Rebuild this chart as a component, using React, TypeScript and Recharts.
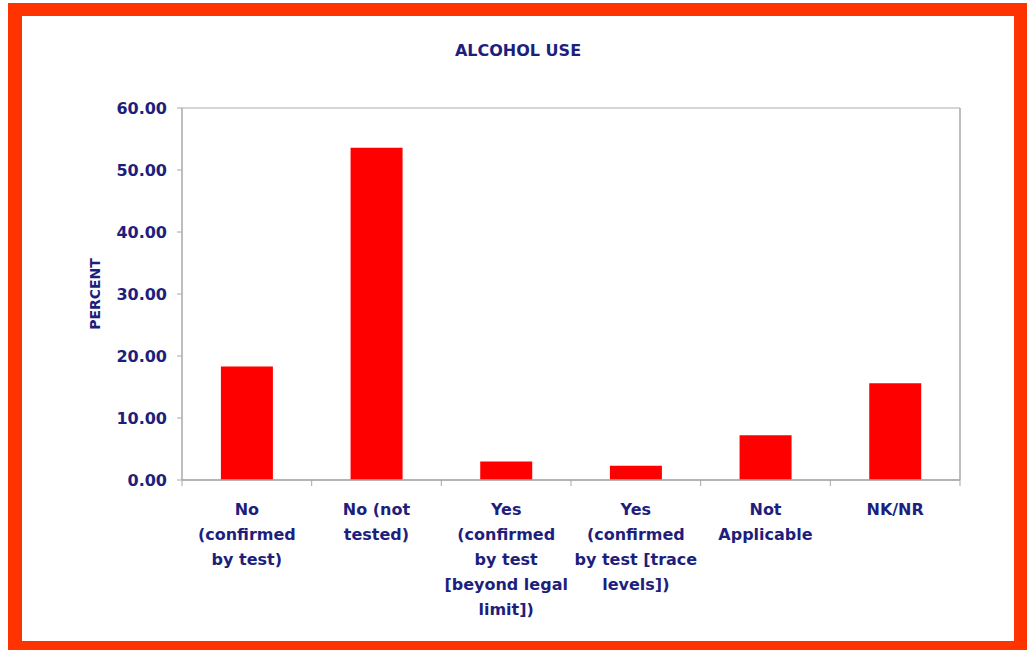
import React from 'react';
import { BarChart, Bar, XAxis, YAxis, CartesianGrid } from 'recharts';

const categories = [
  'No\n(confirmed\nby test)',
  'No (not\ntested)',
  'Yes\n(confirmed\nby test\n[beyond legal\nlimit])',
  'Yes\n(confirmed\nby test [trace\nlevels])',
  'Not\nApplicable',
  'NK/NR',
];
const percents = [18.3, 53.6, 3.0, 2.3, 7.2, 15.6];
const yTicks = [0, 10, 20, 30, 40, 50, 60];

const data = categories.map((c, i) => ({ name: c, value: percents[i] }));

const NAVY = '#1e1e7c';
const FONT = '"DejaVu Sans", Verdana, sans-serif';
const AXIS = '#a8a8a8';

const XTick = (props: any) => {
  const { x, y, payload, index, visibleTicksCount } = props;
  const half = payload.offset || 0;
  const lines = String(payload.value).split('\n');
  return (
    <g>
      <line x1={x - half} x2={x - half} y1={y} y2={y + 6} stroke={AXIS} />
      {index === visibleTicksCount - 1 && (
        <line x1={x + half} x2={x + half} y1={y} y2={y + 6} stroke={AXIS} />
      )}
      <text
        x={x}
        y={y + 35}
        textAnchor="middle"
        fill={NAVY}
        fontSize={16}
        fontWeight="bold"
        fontFamily={FONT}
      >
        {lines.map((l, i) => (
          <tspan key={i} x={x} dy={i === 0 ? 0 : 25}>
            {l}
          </tspan>
        ))}
      </text>
    </g>
  );
};

const YLabel = (props: any) => {
  const vb = props.viewBox || {};
  const cx = 95;
  const cy = vb.y + vb.height / 2;
  return (
    <text
      x={cx}
      y={cy}
      transform={`rotate(-90, ${cx}, ${cy})`}
      textAnchor="middle"
      dominantBaseline="central"
      fill={NAVY}
      fontSize={14}
      fontWeight="bold"
      fontFamily={FONT}
    >
      PERCENT
    </text>
  );
};

export default function App() {
  return (
    <div style={{ position: 'absolute', left: 0, top: 0, width: 1033, height: 650, overflow: 'hidden', background: '#fff' }}>
      <div
        style={{
          position: 'absolute',
          left: 8,
          top: 3,
          width: 1019,
          height: 647,
          boxSizing: 'border-box',
          borderStyle: 'solid',
          borderColor: '#ff3300',
          borderLeftWidth: 14,
          borderTopWidth: 13,
          borderRightWidth: 13,
          borderBottomWidth: 9,
          background: '#fff',
        }}
      />
      <div
        style={{
          position: 'absolute',
          left: 0,
          top: 43,
          width: 1036,
          textAlign: 'center',
          fontFamily: FONT,
          fontWeight: 'bold',
          fontSize: 16,
          lineHeight: '16px',
          color: NAVY,
        }}
      >
        ALCOHOL USE
      </div>
      <div style={{ position: 'absolute', left: 0, top: 0 }}>
        <BarChart
          width={1033}
          height={650}
          data={data}
          margin={{ top: 108, right: 72, bottom: 20, left: 87 }}
          barCategoryGap="30%"
        >
          <CartesianGrid horizontal vertical={false} stroke="#c8c8c8" strokeWidth={1.5} />
          <XAxis
            dataKey="name"
            interval={0}
            height={150}
            tickSize={0}
            tickMargin={0}
            tickLine={false}
            axisLine={{ stroke: AXIS, strokeWidth: 1.5 }}
            tick={<XTick />}
          />
          <YAxis
            yAxisId="left"
            domain={[0, 60]}
            ticks={yTicks}
            interval={0}
            width={95}
            tickSize={5}
            tickMargin={10}
            tickFormatter={(v: number) => v.toFixed(2)}
            tick={{ fill: NAVY, fontSize: 16, fontWeight: 'bold', fontFamily: FONT }}
            tickLine={{ stroke: AXIS }}
            axisLine={{ stroke: AXIS, strokeWidth: 1.5 }}
            label={<YLabel />}
          />
          <YAxis
            yAxisId="right"
            orientation="right"
            domain={[0, 60]}
            ticks={yTicks}
            width={1}
            tick={false}
            tickLine={false}
            axisLine={{ stroke: AXIS, strokeWidth: 1.5 }}
          />
          <Bar yAxisId="left" dataKey="value" fill="#ff0000" isAnimationActive={false} />
        </BarChart>
      </div>
    </div>
  );
}
